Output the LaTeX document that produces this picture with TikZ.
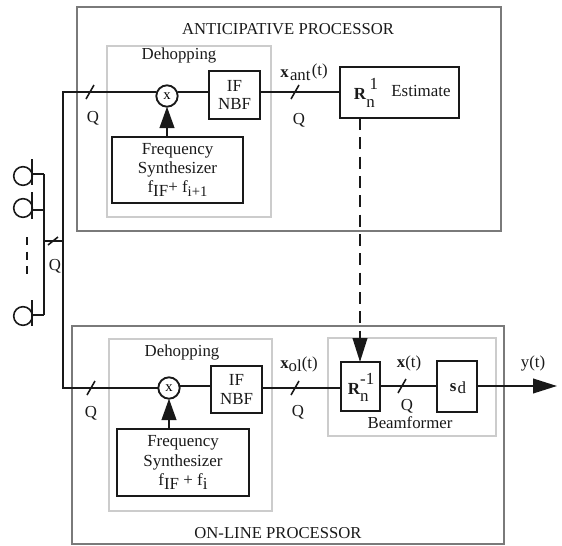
\documentclass[tikz,border=0pt]{standalone}
\usepackage{fontspec}
\setmainfont{Liberation Serif}
\usetikzlibrary{arrows.meta,calc}
\newcommand{\pxbox}[6]{%
  \pgfmathsetmacro{\cxx}{(#2+#4)/2}\pgfmathsetmacro{\cyy}{(#3+#5)/2}%
  \pgfmathsetmacro{\wxx}{(#4-#2)*.75}\pgfmathsetmacro{\hyy}{(#5-#3)*.75}%
  \node[#6,minimum width=\wxx pt,minimum height=\hyy pt] (#1) at (\cxx,\cyy) {};}
\newcommand{\lbl}[2]{\raisebox{#1}{#2}}
\tikzset{
  outerbox/.style={draw=black!52,line width=.85pt,inner sep=0,outer sep=0},
  graybox/.style={draw=black!20,line width=.9pt,inner sep=0,outer sep=0},
  blockbox/.style={draw=black!90,line width=1.4pt,inner sep=0,outer sep=0},
  sig/.style={draw=black!90,line width=1.4pt},
  thin sig/.style={draw=black!90,line width=1.2pt},
  tick/.style={draw=black!90,line width=1.2pt},
  tipped/.style={-{Triangle[length=16pt,width=11pt]}},
  longtip/.style={-{Triangle[length=18pt,width=11pt]}},
  mixer/.style={circle,draw=black!90,line width=1.4pt,minimum size=16pt,inner sep=0,outer sep=0,font=\fontsize{11}{12}\selectfont},
  txt/.style={inner sep=0,font=\fontsize{12.7}{14.5}\selectfont,align=center,text=black!90},
  ttl/.style={inner sep=0,font=\fontsize{12.5}{14}\selectfont,text=black!90},
  small/.style={inner sep=0,font=\fontsize{12.6}{14}\selectfont,text=black!90},
}
\begin{document}
\begin{tikzpicture}[x=.75pt,y=-.75pt]
\useasboundingbox (0,0) rectangle (562,546);
% panels
\pxbox{antp}{77}{7}{501}{231}{outerbox}
\pxbox{olp}{72}{326}{504}{544}{outerbox}
\pxbox{dha}{107}{46}{271}{217}{graybox}
\pxbox{dho}{109}{339}{272}{511}{graybox}
\pxbox{bf}{328}{338}{496}{436}{graybox}
% blocks
\pxbox{ifa}{209}{71}{260}{119}{blockbox}
\pxbox{ifo}{211}{366}{262}{413}{blockbox}
\pxbox{fsa}{112}{137}{243}{203}{blockbox}
\pxbox{fso}{117}{429}{249}{496}{blockbox}
\pxbox{rant}{340}{67}{459}{118}{blockbox}
\pxbox{rinv}{341}{362}{380}{411}{blockbox}
\pxbox{sd}{437}{361}{477}{412}{blockbox}
\node[mixer] (mxa) at (167,96) {x};
\node[mixer] (mxo) at (169,388) {x};
% block text
\node[txt] at (ifa) {IF\\[-.5pt]NBF};
\node[txt] at (ifo) {IF\\[-.5pt]NBF};
\node[txt] at (fsa) {Frequency\\Synthesizer\\f\lbl{-.5ex}{IF}+ f\lbl{-.5ex}{\fontsize{11}{12}\selectfont i+1}};
\node[txt] at (fso) {Frequency\\Synthesizer\\f\lbl{-.5ex}{IF} + f\lbl{-.5ex}{i}};
\node[txt] at (366,93) {\textbf{R}\lbl{-1.1ex}{\rlap{n}}\lbl{1.3ex}{\hspace{2.5pt}1}};
\node[txt] at (421,91) {Estimate};
\node[txt] at (361,387) {\textbf{R}\lbl{-.9ex}{\rlap{n}}\lbl{1.3ex}{-1}};
\node[txt] at (458,388) {\textbf{s}\kern1pt\lbl{-.3ex}{d}};
% labels
\node[ttl] at (288,29) {ANTICIPATIVE PROCESSOR};
\node[ttl] at (278,533) {ON-LINE PROCESSOR};
\node[small] at (179,55) {Dehopping};
\node[small] at (182,352) {Dehopping};
\node[small] at (410,423) {Beamformer};
\node[small] at (93,118) {Q};
\node[small] at (91,413) {Q};
\node[small] at (299,120) {Q};
\node[small] at (298,412) {Q};
\node[small] at (407,406) {Q};
\node[small] at (55,266) {Q};
\node[small] at (304,72) {\textbf{x}\kern1pt\lbl{-.4ex}{ant}\kern1pt\lbl{.3ex}{(t)}};
\node[small] at (299,364) {\textbf{x}\lbl{-.4ex}{ol}(t)};
\node[small] at (409,363) {\textbf{x}(t)};
\node[small] at (533,363) {y(t)};
% coordinates
\coordinate (la) at (0,92);
\coordinate (lo) at (0,388);
\coordinate (lr) at (0,386);
\coordinate (mainx) at (63,0);
\coordinate (yend) at (557,386);
\coordinate (ta) at (90,92);
\coordinate (to) at (91,388);
\coordinate (t2) at (295,92);
\coordinate (t3) at (295,388);
\coordinate (t4) at (402,386);
\coordinate (t5) at (53,241);
\coordinate (busT) at (44,174);
\coordinate (busB) at (44,315);
\coordinate (busJ) at (44,241);
\coordinate (dropJ) at (63,241);
% main wiring
\draw[sig] (mxa.west |- la) -- (mainx |- la) -- (mainx |- lo) -- (mxo.west |- lo);
\draw[sig] (mxa.east |- la) -- (ifa.west |- la);
\draw[sig] (ifa.east |- la) -- (rant.west |- la);
\draw[sig] (mxo.east |- lr) -- (ifo.west |- lr);
\draw[sig] (ifo.east |- lo) -- (rinv.west |- lo);
\draw[sig] (rinv.east |- lr) -- (sd.west |- lr);
\draw[sig,longtip] (sd.east |- lr) -- (yend);
\draw[sig,tipped] (fsa.north -| mxa) -- (mxa.south);
\draw[sig,tipped] (fso.north -| mxo) -- (mxo.south);
\draw[sig,longtip,dash pattern=on 9pt off 5.5pt] (rant.south -| 360,0) -- (rinv.north -| 360,0);
% ticks
\foreach \t in {ta,to,t2,t3,t4}
  \draw[tick] ($(\t)+(-4,7)$) -- ($(\t)+(4,-7)$);
\draw[tick] ($(t5)+(-5,4)$) -- ($(t5)+(5,-4)$);
% array
\draw[thin sig] (busT) -- (busB);
\draw[thin sig] (busJ) -- (dropJ);
\node[circle,draw=black!90,line width=1.2pt,minimum size=14pt,inner sep=0,outer sep=0] (c1) at (23,176) {};
\node[circle,draw=black!90,line width=1.2pt,minimum size=14pt,inner sep=0,outer sep=0] (c2) at (23,208) {};
\node[circle,draw=black!90,line width=1.2pt,minimum size=14pt,inner sep=0,outer sep=0] (c3) at (23,316) {};
\draw[thin sig] (32,159) -- (32,185);
\draw[thin sig] (32,192) -- (32,219);
\draw[thin sig] (32,300) -- (32,326);
\draw[thin sig] (32,174) -- (busT);
\draw[thin sig] (32,210) -- (44,210);
\draw[thin sig] (32,315) -- (busB);
\draw[thin sig,dash pattern=on 6pt off 5pt] (27,237) -- (27,274);
\end{tikzpicture}
\end{document}
